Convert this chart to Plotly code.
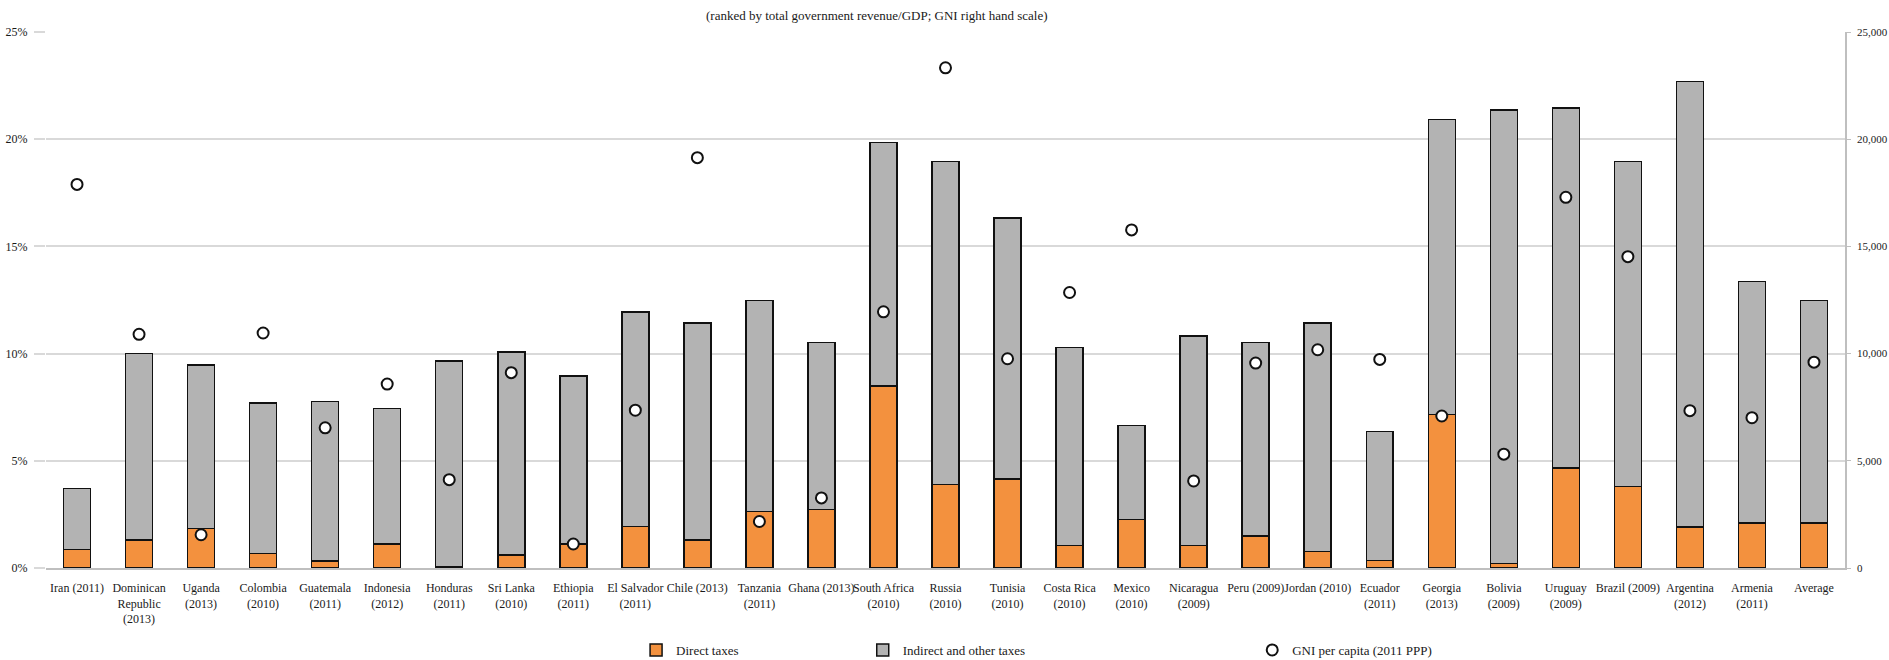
import plotly.graph_objects as go

categories = [
    "Iran (2011)", "Dominican<br>Republic<br>(2013)", "Uganda<br>(2013)", "Colombia<br>(2010)",
    "Guatemala<br>(2011)", "Indonesia<br>(2012)", "Honduras<br>(2011)", "Sri Lanka<br>(2010)",
    "Ethiopia<br>(2011)", "El Salvador<br>(2011)", "Chile (2013)", "Tanzania<br>(2011)",
    "Ghana (2013)", "South Africa<br>(2010)", "Russia<br>(2010)", "Tunisia<br>(2010)",
    "Costa Rica<br>(2010)", "Mexico<br>(2010)", "Nicaragua<br>(2009)", "Peru (2009)",
    "Jordan (2010)", "Ecuador<br>(2011)", "Georgia<br>(2013)", "Bolivia<br>(2009)",
    "Uruguay<br>(2009)", "Brazil (2009)", "Argentina<br>(2012)", "Armenia<br>(2011)", "Average",
]

# Total government tax revenue (% of GDP)
total_taxes = [3.70, 10.00, 9.46, 7.69, 7.76, 7.44, 9.65, 10.08, 8.95, 11.95, 11.42, 12.48,
               10.51, 19.84, 18.96, 16.32, 10.28, 6.64, 10.81, 10.51, 11.42, 6.36, 20.92,
               21.36, 21.46, 18.96, 22.70, 13.37, 12.48]
# Direct taxes (% of GDP)
direct_taxes = [0.87, 1.30, 1.84, 0.67, 0.33, 1.13, 0.08, 0.60, 1.13, 1.94, 1.30, 2.64,
                2.72, 8.49, 3.89, 4.14, 1.05, 2.27, 1.05, 1.49, 0.77, 0.35, 7.16,
                0.22, 4.67, 3.79, 1.92, 2.09, 2.09]
# GNI per capita (2011 PPP)
gni_per_capita = [17890, 10900, 1550, 10960, 6540, 8580, 4120, 9110, 1120, 7360, 19140, 2170,
                  3270, 11950, 23330, 9760, 12850, 15770, 4060, 9560, 10180, 9730, 7090,
                  5310, 17290, 14520, 7340, 7010, 9600]

indirect_taxes = [round(t - d, 2) for t, d in zip(total_taxes, direct_taxes)]

FONT = "Liberation Serif"
TXT = "#1a1a1a"
GRID = "#d9d9d9"

fig = go.Figure()
fig.add_trace(go.Bar(
    x=categories, y=direct_taxes, name="Direct taxes",
    marker=dict(color="#f3913e", line=dict(color="#111111", width=1.5)),
    legend="legend",
))
fig.add_trace(go.Bar(
    x=categories, y=indirect_taxes, name="Indirect and other taxes",
    marker=dict(color="#b3b3b3", line=dict(color="#111111", width=1.5)),
    legend="legend2",
))
fig.add_trace(go.Scatter(
    x=categories, y=gni_per_capita, name="GNI per capita (2011 PPP)", mode="markers",
    marker=dict(symbol="circle", size=11, color="white", line=dict(color="#111111", width=2)),
    yaxis="y2", legend="legend3",
))

legend_common = dict(orientation="h", yanchor="middle", y=-0.153, xanchor="left",
                     font=dict(family=FONT, size=13, color=TXT), bgcolor="rgba(0,0,0,0)",
                     itemwidth=30)

fig.update_layout(
    width=1889, height=660,
    margin=dict(l=46, r=44, t=32, b=92, autoexpand=False),
    paper_bgcolor="white", plot_bgcolor="white",
    barmode="stack", bargap=0.565,
    font=dict(family=FONT, size=12, color=TXT),
    showlegend=True,
    legend=dict(x=0.328, **legend_common),
    legend2=dict(x=0.454, **legend_common),
    legend3=dict(x=0.6705, **legend_common),
    xaxis=dict(
        range=[-0.5, len(categories) - 0.5], autorange=False,
        showline=True, linecolor="#bfbfbf", linewidth=1.5, showgrid=False,
        ticks="", tickangle=0, ticklabelstandoff=8, automargin=False,
        tickfont=dict(family=FONT, size=12, color=TXT),
    ),
    yaxis=dict(
        range=[0, 25], dtick=5, ticksuffix="%", showgrid=True, gridcolor=GRID, gridwidth=1.5,
        zeroline=False, showline=False, ticks="outside", ticklen=11, tickcolor=GRID,
        tickwidth=1.5, ticklabelstandoff=4, automargin=False,
        tickfont=dict(family=FONT, size=12, color=TXT),
    ),
    yaxis2=dict(
        range=[0, 25000], dtick=5000, tickformat=",", overlaying="y", side="right",
        showgrid=False, zeroline=False, showline=True, linecolor="#bfbfbf", linewidth=1.5,
        ticks="outside", ticklen=4, tickcolor="#bfbfbf", ticklabelstandoff=4, automargin=False,
        tickfont=dict(family=FONT, size=11, color=TXT),
    ),
    annotations=[dict(
        text="(ranked by total government revenue/GDP; GNI right hand scale)",
        xref="paper", yref="paper", x=(877 - 46) / 1799, y=1.0, yshift=17,
        xanchor="center", yanchor="middle", showarrow=False,
        font=dict(family=FONT, size=13, color=TXT),
    )],
)

fig.write_html(
    "out.html",
    config={"displayModeBar": False},
    post_script="document.body.style.margin='0';document.body.style.overflow='hidden';",
)
